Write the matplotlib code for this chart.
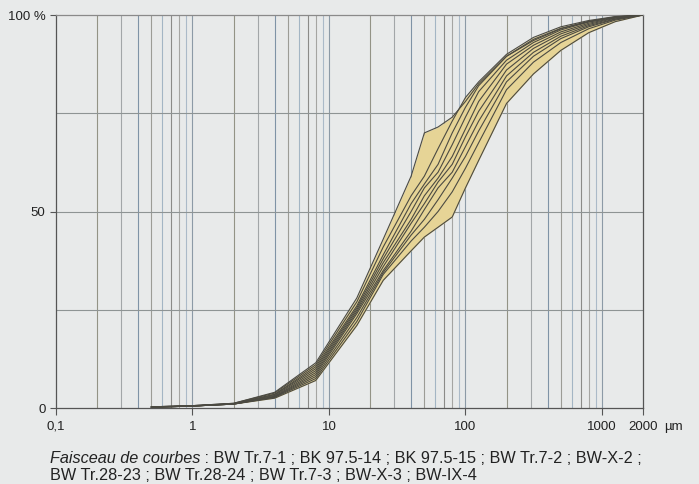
import matplotlib.pyplot as plt
import numpy as np

# grain sizes (µm) and cumulative passing (%) for the ten samples
sizes = [0.5, 1, 2, 4, 8, 16, 25, 40, 50, 63, 80, 100, 125, 200, 315, 500, 800, 1250, 2000]

bw_tr7_1 = [0.3, 0.6, 1.2, 4.0, 11.5, 28, 43, 59, 70, 71.5, 74, 78, 82.5, 89.5, 93.5, 96.5, 98.3, 99.5, 100]
bk_975_14 = [0.3, 0.6, 1.2, 3.8, 11.0, 27, 41, 54, 59, 66, 73, 79, 83, 90, 94.3, 97, 98.6, 99.6, 100]
bk_975_15 = [0.3, 0.6, 1.1, 3.5, 10.5, 26, 39, 52, 57, 62, 70, 76.5, 82, 89.5, 93.8, 96.6, 98.4, 99.5, 100]
bw_tr7_2 = [0.3, 0.5, 1.1, 3.4, 10.0, 25.5, 38, 50, 56, 60, 67, 74, 80.5, 88.5, 93, 96.2, 98.2, 99.4, 100]
bw_x_2 = [0.2, 0.5, 1.1, 3.2, 9.5, 25, 37, 48, 54, 58.5, 64, 71, 78, 87.5, 92.3, 95.7, 97.9, 99.3, 100]
bw_tr28_23 = [0.2, 0.5, 1.0, 3.0, 9.0, 24.5, 36, 47, 52, 57.5, 62, 69, 75.5, 86, 91.5, 95.2, 97.6, 99.2, 100]
bw_tr28_24 = [0.2, 0.5, 1.0, 2.9, 8.5, 24, 35, 45, 50.5, 56, 60, 66.5, 73, 84.5, 90.5, 94.6, 97.3, 99.0, 100]
bw_tr7_3 = [0.2, 0.5, 1.0, 2.8, 8.0, 23, 34.5, 44, 48, 53, 58.5, 64, 70.5, 83, 89.5, 94, 97, 98.9, 100]
bw_x_3 = [0.2, 0.5, 1.0, 2.7, 7.5, 22, 34, 42.5, 46, 50, 55, 61, 67.5, 81, 88, 93, 96.5, 98.7, 100]
bw_ix_4 = [0.2, 0.5, 1.0, 2.5, 7.0, 21, 32.5, 40, 43.5, 46, 48.6, 56, 63, 77.5, 85, 91, 95.5, 98.3, 100]

curves = [bw_tr7_1, bk_975_14, bk_975_15, bw_tr7_2, bw_x_2,
          bw_tr28_23, bw_tr28_24, bw_tr7_3, bw_x_3, bw_ix_4]

xtick_vals = [0.1, 1, 10, 100, 1000, 2000]
xtick_labels = ['0,1', '1', '10', '100', '1000', '2000']
ytick_vals = [0, 50, 100]
ytick_labels = ['0', '50', '100 %']

plt.rcParams['font.family'] = ['Liberation Sans', 'DejaVu Sans']

bg = '#e8eaea'
fig = plt.figure(figsize=(6.99, 4.84), dpi=100, facecolor=bg)
ax = fig.add_axes([0.0801, 0.157, 0.8398, 0.812])
ax.set_facecolor(bg)
ax.set_xscale('log')
ax.set_xlim(0.1, 2000)
ax.set_ylim(0, 100)

# log grid, tinted like the scanned paper
digit_col = {1: '#8c9aa6', 2: '#939386', 3: '#a2a6a8', 4: '#7f93a6', 5: '#9c9c96',
             6: '#a3b5c4', 7: '#8b8b88', 8: '#a5a5a2', 9: '#abbac8'}
for dec in [0.1, 1, 10, 100, 1000]:
    for k in range(1, 10):
        v = dec * k
        if 0.1 < v < 2000:
            ax.axvline(v, color=digit_col[k], lw=0.8, zorder=1)
for yv in [25, 50, 75]:
    ax.axhline(yv, color='#8e9494', lw=0.8, zorder=1)

arr = np.array(curves)
ax.fill_between(sizes, arr.min(axis=0), arr.max(axis=0), color='#e6d496', lw=0, zorder=2)
for c in curves:
    ax.plot(sizes, c, color='#4b4a42', lw=0.8, zorder=3)

for s in ['left', 'bottom', 'right']:
    ax.spines[s].set_color('#555555')
    ax.spines[s].set_linewidth(0.9)
ax.spines['top'].set_color('#8a8a8a')
ax.spines['top'].set_linewidth(0.9)

ax.set_xticks(xtick_vals)
ax.set_xticklabels(xtick_labels)
ax.xaxis.set_minor_locator(plt.NullLocator())
ax.set_yticks(ytick_vals)
ax.set_yticklabels(ytick_labels)
ax.tick_params(axis='x', length=5, width=0.8, color='#555555', pad=4, labelsize=9.5, labelcolor='#222222')
ax.tick_params(axis='y', length=4.5, width=0.8, color='#555555', pad=3, labelsize=9.5, labelcolor='#222222')

ax.annotate('µm', xy=(2000, 0), xycoords='data', xytext=(15.5, -9), textcoords='offset points',
            ha='left', va='top', fontsize=9.5, color='#222222')

cap_fs = 11.7
t1 = fig.text(50 / 699, 1 - 463 / 484, 'Faisceau de courbes', style='italic', fontsize=cap_fs,
              color='#222222', va='baseline')
ax.annotate(' : BW Tr.7-1 ; BK 97.5-14 ; BK 97.5-15 ; BW Tr.7-2 ; BW-X-2 ;', xy=(1, 0),
            xycoords=t1, va='bottom', fontsize=cap_fs, color='#222222')
fig.text(50 / 699, 1 - 480 / 484, 'BW Tr.28-23 ; BW Tr.28-24 ; BW Tr.7-3 ; BW-X-3 ; BW-IX-4',
         fontsize=cap_fs, color='#222222', va='baseline')

fig.savefig('out.png', dpi=100, facecolor=bg)
